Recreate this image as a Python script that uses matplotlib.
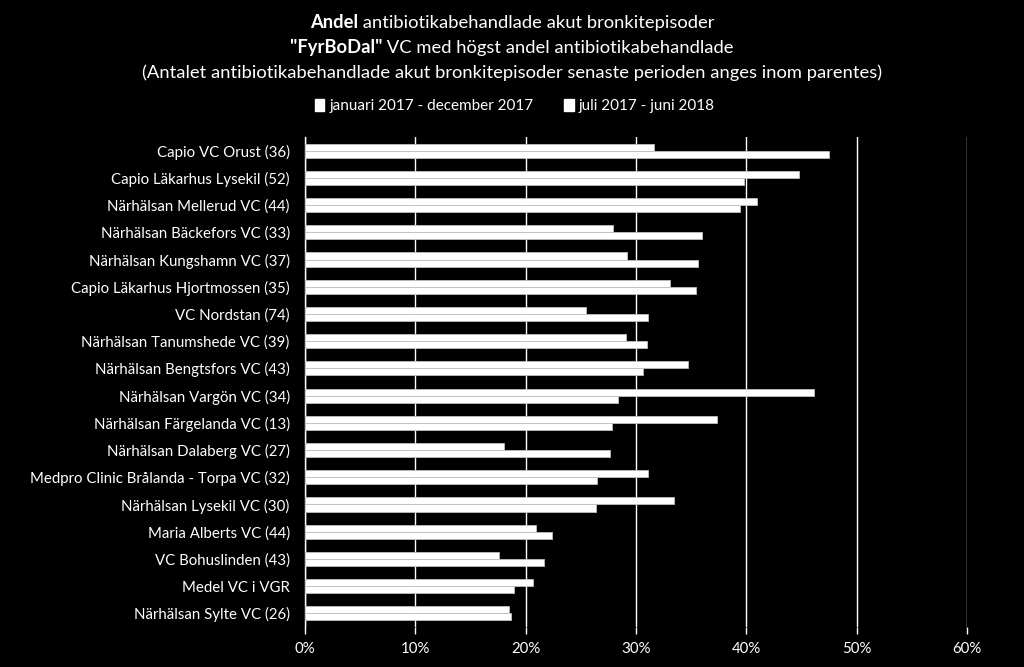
import matplotlib
matplotlib.use('Agg')
import matplotlib.pyplot as plt
import numpy as np
from matplotlib.patches import Patch

plt.rcParams['font.family'] = ['Lato', 'DejaVu Sans']

categories = [
    "Capio VC Orust (36)",
    "Capio Läkarhus Lysekil (52)",
    "Närhälsan Mellerud VC (44)",
    "Närhälsan Bäckefors VC (33)",
    "Närhälsan Kungshamn VC (37)",
    "Capio Läkarhus Hjortmossen (35)",
    "VC Nordstan (74)",
    "Närhälsan Tanumshede VC (39)",
    "Närhälsan Bengtsfors VC (43)",
    "Närhälsan Vargön VC (34)",
    "Närhälsan Färgelanda VC (13)",
    "Närhälsan Dalaberg VC (27)",
    "Medpro Clinic Brålanda - Torpa VC (32)",
    "Närhälsan Lysekil VC (30)",
    "Maria Alberts VC (44)",
    "VC Bohuslinden (43)",
    "Medel VC i VGR",
    "Närhälsan Sylte VC (26)",
]
series_names = ["januari 2017 - december 2017", "juli 2017 - juni 2018"]
jan17_dec17 = [31.6, 44.8, 41.0, 27.9, 29.2, 33.1, 25.5, 29.1, 34.7, 46.1,
               37.3, 18.0, 31.1, 33.4, 20.9, 17.6, 20.7, 18.5]
jul17_jun18 = [47.5, 39.8, 39.4, 36.0, 35.6, 35.4, 31.1, 31.0, 30.6, 28.4,
               27.8, 27.6, 26.5, 26.4, 22.4, 21.7, 18.9, 18.7]
xticks = [0, 10, 20, 30, 40, 50, 60]

W, H = 1024, 667
fig = plt.figure(figsize=(W / 100, H / 100), dpi=100, facecolor='black')
ax = fig.add_axes([305 / W, 1 - 627 / H, (967 - 305) / W, (627 - 137) / H])
ax.set_facecolor('black')

y = np.arange(len(categories))
h = 0.26
ax.barh(y - h / 2, jan17_dec17, height=h, color='white', edgecolor='#bfbfbf', linewidth=0.6, zorder=3)
ax.barh(y + h / 2, jul17_jun18, height=h, color='white', edgecolor='#bfbfbf', linewidth=0.6, zorder=3)

ax.set_xlim(0, 60)
ax.set_ylim(len(categories) - 0.5, -0.5)
ax.set_xticks(xticks)
ax.set_xticklabels([f"{t}%" for t in xticks], color='white', fontsize=10.8)
ax.set_yticks(y)
ax.set_yticklabels(categories, color='white', fontsize=10.8)
ax.tick_params(axis='y', length=0, pad=11)
ax.tick_params(axis='x', length=5, color='white', width=1, pad=6)
ax.grid(axis='x', color='white', linewidth=1, zorder=1)
for s in ['top', 'right', 'bottom']:
    ax.spines[s].set_visible(False)
ax.spines['left'].set_color('white')
ax.spines['left'].set_linewidth(1)

# Title with mixed bold parts
renderer = fig.canvas.get_renderer()

def mixed_line(parts, yfig, size=13.2):
    texts = []
    for s, w in parts:
        t = fig.text(0, yfig, s, fontsize=size, fontweight=w, color='white', va='center', ha='left')
        texts.append(t)
    widths = [t.get_window_extent(renderer).width for t in texts]
    total = sum(widths)
    x = W / 2 - total / 2
    for t, wd in zip(texts, widths):
        t.set_x(x / W)
        x += wd

mixed_line([("Andel", 'bold'), (" antibiotikabehandlade akut bronkitepisoder", 'normal')], 1 - 23 / H)
mixed_line([('"FyrBoDal"', 'bold'), (" VC med högst andel antibiotikabehandlade", 'normal')], 1 - 48 / H)
mixed_line([("(Antalet antibiotikabehandlade akut bronkitepisoder senaste perioden anges inom parentes)", 'normal')], 1 - 73 / H)

handles = [Patch(facecolor='white', edgecolor='white') for _ in series_names]
fig.legend(handles, series_names, loc='center', bbox_to_anchor=(0.503, 1 - 106 / H), ncol=2,
           frameon=False, fontsize=11.0, labelcolor='white', handlelength=0.6, handleheight=0.8,
           handletextpad=0.35, columnspacing=2.0)

fig.savefig('out.png', dpi=100, facecolor='black')
